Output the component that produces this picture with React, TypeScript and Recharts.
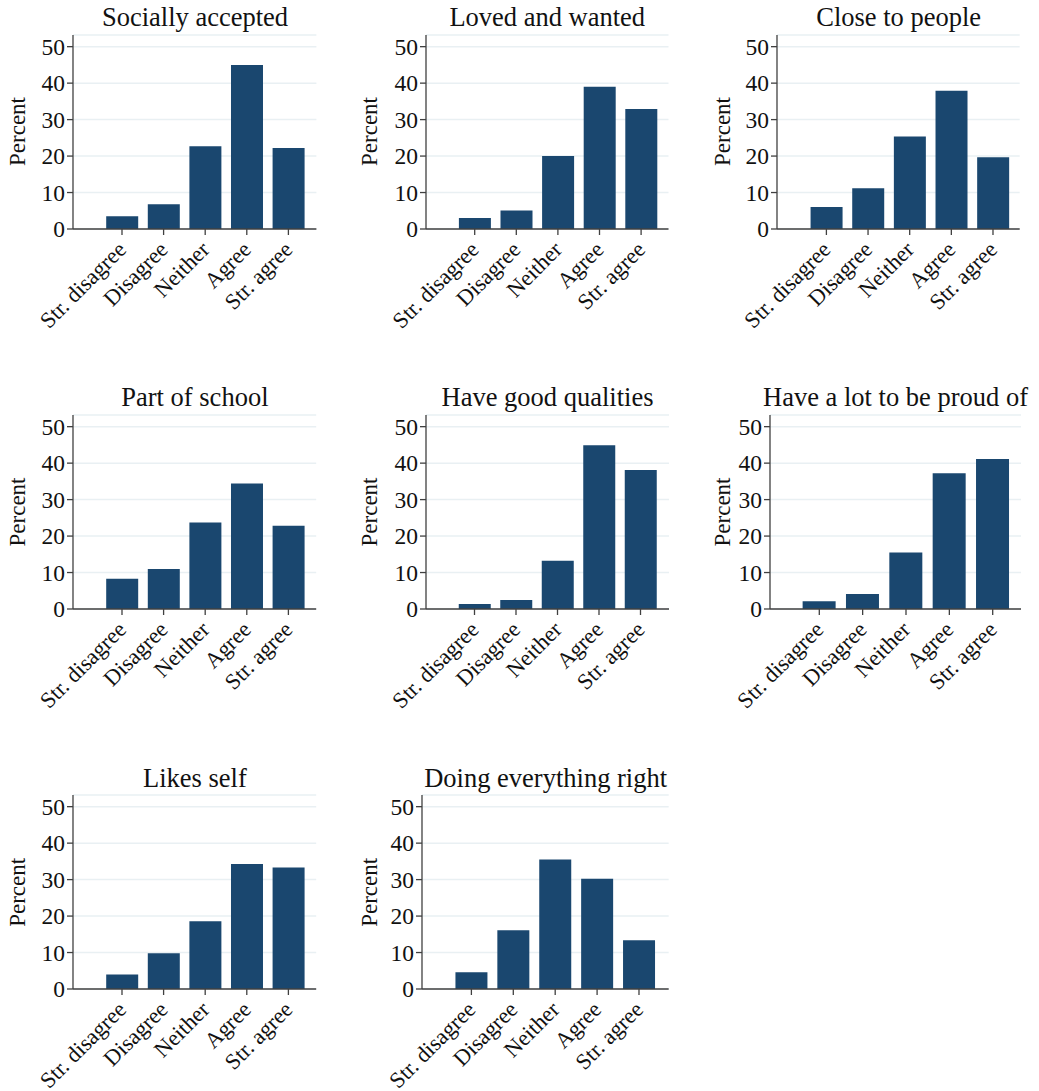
import { BarChart, Bar, XAxis, YAxis, CartesianGrid } from 'recharts';

const categories = ['Str. disagree', 'Disagree', 'Neither', 'Agree', 'Str. agree'];
const yTicks = [0, 10, 20, 30, 40, 50];

const titles = [
  'Socially accepted',
  'Loved and wanted',
  'Close to people',
  'Part of school',
  'Have good qualities',
  'Have a lot to be proud of',
  'Likes self',
  'Doing everything right',
];

const sociallyAccepted = [3.5, 6.8, 22.7, 45.0, 22.2];
const lovedAndWanted = [3.0, 5.1, 20.0, 39.0, 32.9];
const closeToPeople = [6.0, 11.2, 25.4, 37.9, 19.7];
const partOfSchool = [8.3, 11.0, 23.7, 34.4, 22.8];
const goodQualities = [1.4, 2.5, 13.2, 44.9, 38.1];
const proudOf = [2.1, 4.1, 15.5, 37.2, 41.1];
const likesSelf = [4.0, 9.8, 18.6, 34.3, 33.3];
const doingRight = [4.6, 16.1, 35.5, 30.2, 13.4];

const series = [
  sociallyAccepted,
  lovedAndWanted,
  closeToPeople,
  partOfSchool,
  goodQualities,
  proudOf,
  likesSelf,
  doingRight,
];

// plot-area placement of each panel (axis x, right end, first tick, tick spacing, zero line, label x)
const panels = [
  { x0: 73.3, x1: 316.7, first: 122.3, step: 41.6, zero: 228.5, labelX: 25 },
  { x0: 426, x1: 668.5, first: 474.7, step: 41.6, zero: 228.5, labelX: 377 },
  { x0: 777.3, x1: 1020, first: 826.7, step: 41.65, zero: 228.5, labelX: 730 },
  { x0: 73.3, x1: 316.5, first: 122.3, step: 41.6, zero: 609, labelX: 25 },
  { x0: 426, x1: 669, first: 474.5, step: 41.5, zero: 609, labelX: 377 },
  { x0: 770, x1: 1021, first: 819.3, step: 43.35, zero: 609, labelX: 730 },
  { x0: 73.3, x1: 316.5, first: 122.3, step: 41.6, zero: 989.3, labelX: 25 },
  { x0: 422.3, x1: 669, first: 471.7, step: 41.9, zero: 989.3, labelX: 377 },
];

const FONT = '"Liberation Serif", "Times New Roman", serif';
const BAR = '#1a476f';
const AXIS = '#404040';
const PLOT_H = 194;
const Y_W = 70;
const TOP = 20;
const X_H = 110;

const XTick = (props: any) => {
  const { x, y, payload } = props;
  const tx = x + 5.5;
  const ty = y + 14;
  return (
    <text
      x={tx}
      y={ty}
      transform={`rotate(-45 ${tx} ${ty})`}
      textAnchor="end"
      fontSize={22.5}
      fontFamily={FONT}
      fill="#111"
    >
      {payload.value}
    </text>
  );
};

function Panel({ idx }: { idx: number }) {
  const p = panels[idx];
  const w = p.x1 - p.x0;
  const padL = p.first - p.x0 - p.step / 2;
  const padR = w - 5 * p.step - padL;
  const data = categories.map((c, i) => ({ cat: c, value: series[idx][i] }));
  return (
    <div
      style={{
        position: 'absolute',
        left: p.x0 - Y_W,
        top: p.zero - PLOT_H - TOP,
      }}
    >
      <BarChart
        width={Y_W + w + 20}
        height={TOP + PLOT_H + X_H}
        data={data}
        margin={{ top: TOP, right: 20, bottom: 0, left: 0 }}
        style={{ overflow: 'visible' }}
      >
        <CartesianGrid vertical={false} stroke="#e9f0f3" strokeWidth={1.5} />
        <XAxis
          dataKey="cat"
          type="category"
          interval={0}
          height={X_H}
          padding={{ left: padL, right: padR }}
          axisLine={{ stroke: AXIS, strokeWidth: 1.3 }}
          tickLine={{ stroke: AXIS, strokeWidth: 1.3 }}
          tickSize={6}
          tick={<XTick />}
        />
        <YAxis
          width={Y_W}
          domain={[0, 53.2]}
          ticks={yTicks}
          allowDataOverflow
          axisLine={{ stroke: AXIS, strokeWidth: 1.3 }}
          tickLine={{ stroke: AXIS, strokeWidth: 1.3 }}
          tickSize={6}
          tick={{ fontSize: 23.5, fontFamily: FONT, fill: '#111' }}
        />
        <Bar
          dataKey="value"
          fill={BAR}
          barSize={Math.round(p.step * 0.77)}
          isAnimationActive={false}
        />
      </BarChart>
    </div>
  );
}

export default function App() {
  return (
    <div
      style={{
        position: 'absolute',
        left: 0,
        top: 0,
        width: 1039,
        height: 1091,
        background: '#fff',
      }}
    >
      {panels.map((_, i) => (
        <Panel key={i} idx={i} />
      ))}
      <svg
        width={1039}
        height={1091}
        style={{ position: 'absolute', left: 0, top: 0, pointerEvents: 'none' }}
      >
        {panels.map((p, i) => {
          const cy = p.zero - PLOT_H / 2;
          return (
            <g key={i}>
              <text
                x={(p.x0 + p.x1) / 2}
                y={p.zero - 202.7}
                textAnchor="middle"
                fontSize={26.5}
                fontFamily={FONT}
                fill="#111"
              >
                {titles[i]}
              </text>
              <text
                x={p.labelX}
                y={cy}
                transform={`rotate(-90 ${p.labelX} ${cy})`}
                textAnchor="middle"
                fontSize={23}
                fontFamily={FONT}
                fill="#111"
              >
                Percent
              </text>
            </g>
          );
        })}
      </svg>
    </div>
  );
}
